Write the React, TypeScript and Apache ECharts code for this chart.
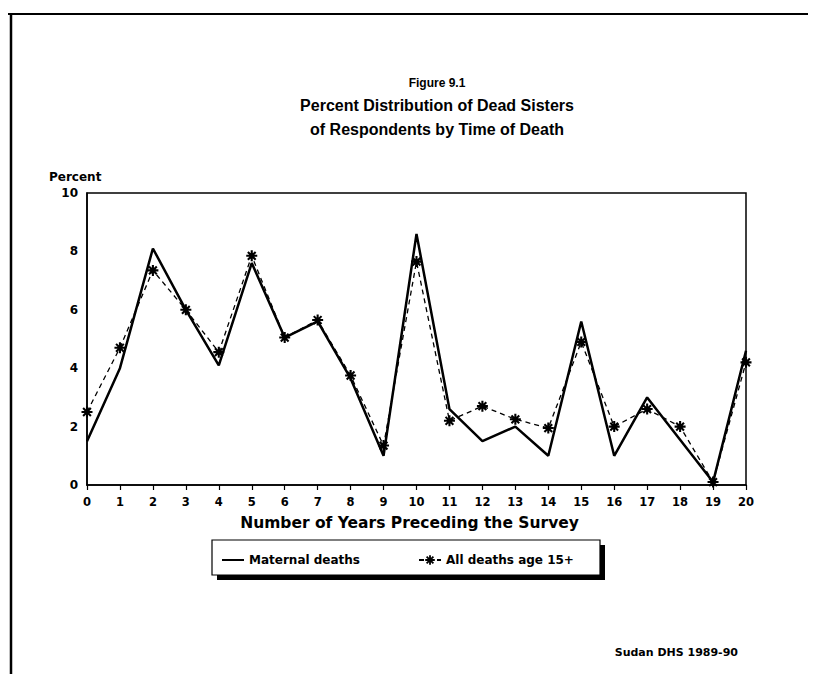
import React, { useEffect, useRef } from "react";
import * as echarts from "echarts";

const years: string[] = ["0","1","2","3","4","5","6","7","8","9","10","11","12","13","14","15","16","17","18","19","20"];
const maternalDeaths: number[] = [1.5, 4.0, 8.1, 6.0, 4.1, 7.6, 5.05, 5.6, 3.65, 1.0, 8.6, 2.6, 1.5, 2.0, 1.0, 5.6, 1.0, 3.0, 1.55, 0.1, 4.6];
const allDeaths15: number[] = [2.5, 4.7, 7.35, 6.0, 4.55, 7.85, 5.05, 5.65, 3.75, 1.35, 7.65, 2.2, 2.7, 2.25, 1.95, 4.9, 2.0, 2.6, 2.0, 0.1, 4.2];
const seriesNames: string[] = ["Maternal deaths", "All deaths age 15+"];
const figureLabel = "Figure 9.1";
const titleLines: string[] = ["Percent Distribution of Dead Sisters", "of Respondents by Time of Death"];
const xAxisTitle = "Number of Years Preceding the Survey";
const yAxisTitle = "Percent";
const sourceNote = "Sudan DHS 1989-90";

function asteriskPath(): string {
  const L = 10, w = 1.9;
  const parts = [0, 45, 90, 135].map((a) => {
    const r = (a * Math.PI) / 180;
    const dx = Math.cos(r), dy = Math.sin(r);
    const nx = -dy, ny = dx;
    const pts = [
      [L * dx + w * nx, L * dy + w * ny],
      [L * dx - w * nx, L * dy - w * ny],
      [-L * dx - w * nx, -L * dy - w * ny],
      [-L * dx + w * nx, -L * dy + w * ny],
    ];
    return "M" + pts.map((p) => p.map((v) => v.toFixed(2)).join(" ")).join(" L") + " Z";
  });
  return "path://" + parts.join(" ");
}

const FONT = "'DejaVu Sans', 'Liberation Sans', Arial, sans-serif";
const TFONT = "'Liberation Sans', Arial, sans-serif";

export default function App() {
  const ref = useRef<HTMLDivElement>(null);
  useEffect(() => {
    if (!ref.current) return;
    const chart = echarts.init(ref.current, undefined, { renderer: "svg" });
    const star = asteriskPath();
    chart.setOption({
      animation: false,
      backgroundColor: "#ffffff",
      title: [
        {
          text: figureLabel,
          left: 432,
          top: 72,
          textAlign: "center",
          textStyle: { fontFamily: TFONT, fontWeight: "bold", fontSize: 12, color: "#000" },
        },
        {
          text: titleLines.join("\n"),
          left: 432,
          top: 88,
          textAlign: "center",
          textStyle: { fontFamily: TFONT, fontWeight: "bold", fontSize: 16, lineHeight: 24, color: "#000" },
        },
      ],
      grid: {
        left: 87,
        right: 70,
        top: 193,
        bottom: 197,
        show: true,
        borderColor: "#000",
        borderWidth: 1.5,
        backgroundColor: "transparent",
      },
      legend: {
        left: 216,
        top: 549,
        itemWidth: 22,
        itemHeight: 12,
        itemGap: 58,
        textStyle: { fontFamily: FONT, fontWeight: "bold", fontSize: 12, color: "#000" },
        data: [
          { name: seriesNames[0], itemStyle: { opacity: 0 } },
          { name: seriesNames[1] },
        ],
      },
      xAxis: {
        type: "category",
        data: years,
        boundaryGap: false,
        name: xAxisTitle,
        nameLocation: "middle",
        nameGap: 30,
        nameTextStyle: { fontFamily: FONT, fontWeight: "bold", fontSize: 15.5, color: "#000", padding: [0, 14, 0, 0] },
        axisLine: { lineStyle: { color: "#000", width: 1.5 } },
        axisTick: { show: true, length: 5, lineStyle: { color: "#000", width: 1.2 } },
        axisLabel: { margin: 11, fontFamily: FONT, fontWeight: "bold", fontSize: 11.5, color: "#000" },
        splitLine: { show: false },
      },
      yAxis: {
        type: "value",
        min: 0,
        max: 10,
        interval: 2,
        name: yAxisTitle,
        nameLocation: "end",
        nameGap: 10,
        nameTextStyle: { fontFamily: FONT, fontWeight: "bold", fontSize: 12, color: "#000", align: "left", padding: [0, 0, 0, -38] },
        axisLine: { show: true, lineStyle: { color: "#000", width: 1.5 } },
        axisTick: { show: false },
        axisLabel: { margin: 9, fontFamily: FONT, fontWeight: "bold", fontSize: 12, color: "#000" },
        splitLine: { show: false },
      },
      series: [
        {
          name: seriesNames[0],
          type: "line",
          data: maternalDeaths,
          symbol: "none",
          lineStyle: { color: "#000", width: 2.5 },
          itemStyle: { color: "#000" },
          z: 3,
        },
        {
          name: seriesNames[1],
          type: "line",
          data: allDeaths15,
          symbol: star,
          symbolSize: 11,
          showSymbol: true,
          lineStyle: { color: "#000", width: 1.3, type: [5, 4] },
          itemStyle: { color: "#000" },
          z: 4,
        },
      ],
      graphic: [
        { type: "line", z: 1, shape: { x1: 8, y1: 14, x2: 816, y2: 14 }, style: { stroke: "#000", lineWidth: 2 } },
        { type: "line", z: 1, shape: { x1: 11, y1: 14, x2: 11, y2: 682 }, style: { stroke: "#000", lineWidth: 2.5 } },
        { type: "rect", z: 1, shape: { x: 217, y: 545, width: 388, height: 35 }, style: { fill: "#000" } },
        { type: "rect", z: 2, shape: { x: 212, y: 540, width: 388, height: 35 }, style: { fill: "#fff", stroke: "#000", lineWidth: 1.2 } },
        {
          type: "text",
          z: 2,
          style: { text: sourceNote, x: 738, y: 652, align: "right", verticalAlign: "middle", fontFamily: FONT, fontWeight: "bold", fontSize: 11, fill: "#000" },
        },
      ],
    });
    return () => chart.dispose();
  }, []);
  return <div ref={ref} style={{ width: 816, height: 682, margin: -8 }} />;
}
